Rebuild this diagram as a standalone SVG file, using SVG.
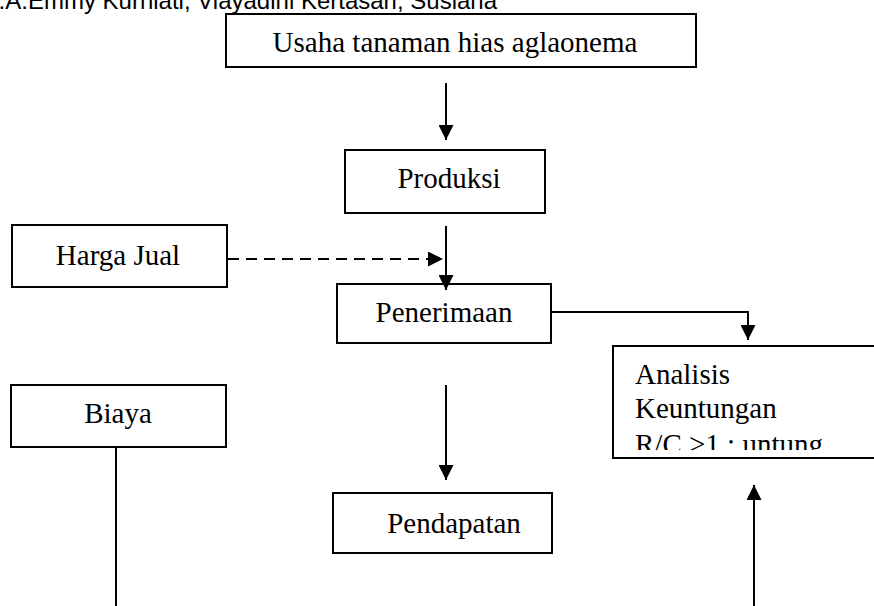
<svg xmlns="http://www.w3.org/2000/svg" width="874" height="606" viewBox="0 0 874 606">
<style>
.box{fill:#fff;stroke:#000;stroke-width:2}
.t{font-family:"Liberation Serif","Times New Roman",serif;font-size:29px;fill:#000}
.c{stroke:#000;stroke-width:2;fill:none}
.h{font-family:"Liberation Sans",Arial,sans-serif;font-size:24px;fill:#000}
</style>
<defs>
<marker id="ah" markerUnits="userSpaceOnUse" markerWidth="15" markerHeight="15" refX="15" refY="7.5" orient="auto">
<path d="M0,0 L15,7.5 L0,15 z" fill="#000"/>
</marker>
<clipPath id="clipA"><rect x="613" y="346" width="270" height="104"/></clipPath>
</defs>
<text class="h" x="497" y="9" text-anchor="end">E.A.Emmy Kurniati, Viayadini Kertasari, Susiana</text>
<g id="usaha">
<rect class="box" x="226" y="14" width="470" height="53"/>
<text class="t" x="455" y="52" text-anchor="middle">Usaha tanaman hias aglaonema</text>
</g>
<g id="produksi">
<rect class="box" x="345" y="150" width="200" height="63"/>
<text class="t" x="449" y="188" text-anchor="middle">Produksi</text>
</g>
<g id="harga">
<rect class="box" x="12" y="225" width="215" height="62"/>
<text class="t" x="118" y="265" text-anchor="middle">Harga Jual</text>
</g>
<g id="penerimaan">
<rect class="box" x="337" y="284" width="214" height="59"/>
<text class="t" x="444" y="322" text-anchor="middle">Penerimaan</text>
</g>
<g id="analisis">
<rect class="box" x="613" y="346" width="270" height="112"/>
<g clip-path="url(#clipA)">
<text class="t" x="635" y="384">Analisis</text>
<text class="t" x="635" y="418">Keuntungan</text>
<text class="t" x="635" y="454">R/C &gt;1 : untung</text>
</g>
</g>
<g id="biaya">
<rect class="box" x="11" y="385" width="215" height="62"/>
<text class="t" x="118" y="423" text-anchor="middle">Biaya</text>
</g>
<g id="pendapatan">
<rect class="box" x="333" y="493" width="219" height="60"/>
<text class="t" x="454" y="533" text-anchor="middle">Pendapatan</text>
</g>
<g id="connectors">
<line class="c" x1="446" y1="83" x2="446" y2="140" marker-end="url(#ah)"/>
<line class="c" x1="446" y1="226" x2="446" y2="290" marker-end="url(#ah)"/>
<line class="c" x1="228" y1="259" x2="443" y2="259" stroke-dasharray="11,7" marker-end="url(#ah)"/>
<path class="c" d="M551,312 H748 V340" marker-end="url(#ah)"/>
<line class="c" x1="446" y1="385" x2="446" y2="480" marker-end="url(#ah)"/>
<line class="c" x1="116" y1="447" x2="116" y2="606"/>
<line class="c" x1="754" y1="606" x2="754" y2="485" marker-end="url(#ah)"/>
</g>
</svg>
